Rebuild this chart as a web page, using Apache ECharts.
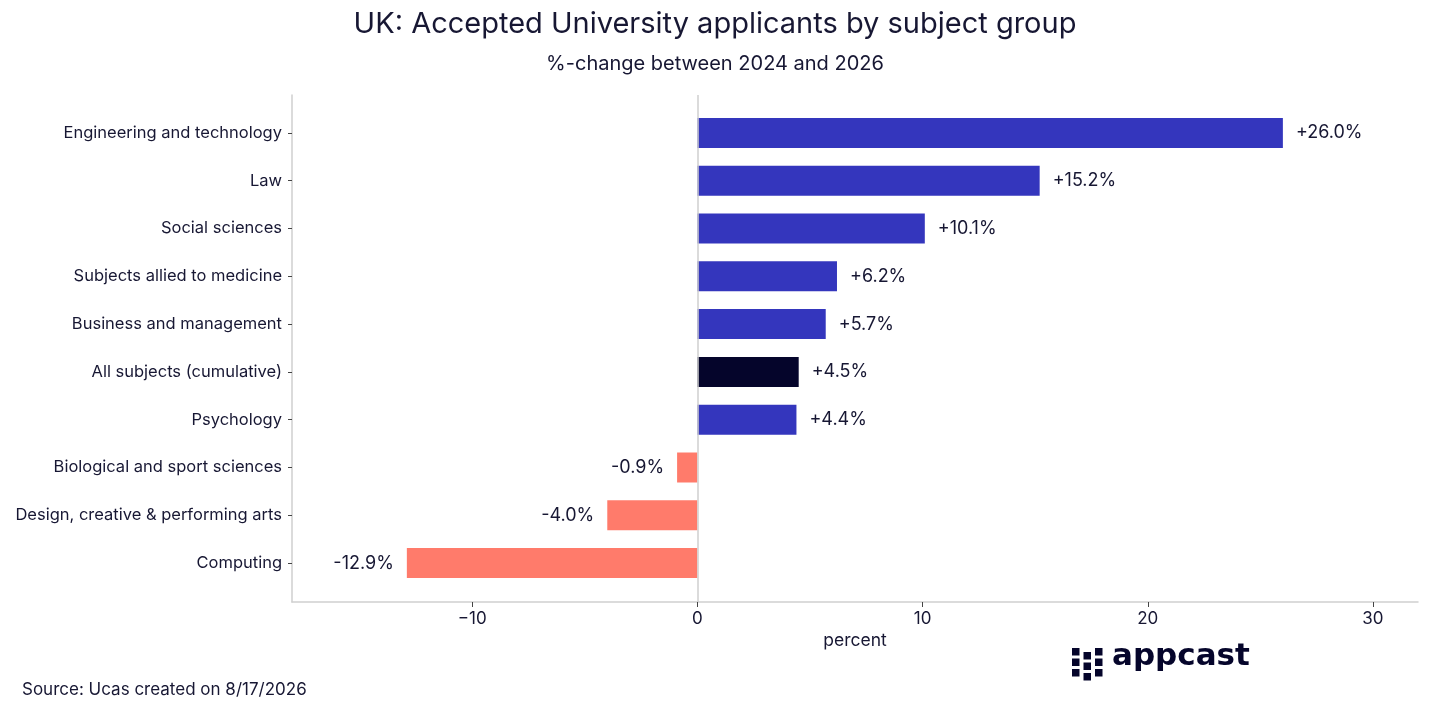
<!DOCTYPE html>
<html>
<head>
<meta charset="utf-8">
<script src="https://cdn.jsdelivr.net/npm/echarts@6/dist/echarts.min.js"></script>
<style>
html,body{margin:0;padding:0;background:#fff;}
#chart{width:1430px;height:716px;}
</style>
</head>
<body>
<div id="chart"></div>
<script>
const categories = [
  "Engineering and technology",
  "Law",
  "Social sciences",
  "Subjects allied to medicine",
  "Business and management",
  "All subjects (cumulative)",
  "Psychology",
  "Biological and sport sciences",
  "Design, creative & performing arts",
  "Computing"
];
const changeValues = [26.0, 15.2, 10.1, 6.2, 5.7, 4.5, 4.4, -0.9, -4.0, -12.9];
const xTickValues = [-10, 0, 10, 20, 30];
const totalCategory = "All subjects (cumulative)";

const FONT = "Inter, 'Noto Sans', sans-serif";
const TEXT = "#171733";
const BLUE = "#3436BD";
const DARK = "#05052B";
const SALMON = "#FF7B6B";

const barData = changeValues.map((v, i) => ({
  value: v,
  itemStyle: { color: categories[i] === totalCategory ? DARK : (v < 0 ? SALMON : BLUE) },
  label: { position: v < 0 ? 'left' : 'right' }
}));

const chart = echarts.init(document.getElementById('chart'), null, { renderer: 'canvas' });

const logoSquares = [];
[[0, 0], [0, 10.5], [0, 21], [11.5, 4], [11.5, 14.5], [11.5, 25], [23, 0], [23, 10.5], [23, 21]].forEach(p => {
  logoSquares.push({ type: 'rect', shape: { x: p[0], y: p[1], width: 7.5, height: 7.5 }, style: { fill: DARK } });
});

chart.setOption({
  backgroundColor: '#fff',
  animation: false,
  textStyle: { fontFamily: FONT },
  title: [
    { text: 'UK: Accepted University applicants by subject group', left: 'center', top: 5,
      textStyle: { fontSize: 29, fontWeight: 'normal', color: TEXT, fontFamily: FONT } },
    { text: '%-change between 2024 and 2026', left: 'center', top: 49,
      textStyle: { fontSize: 20, fontWeight: 'normal', color: TEXT, fontFamily: FONT } }
  ],
  grid: [
    { left: 292, right: 12, top: 109, height: 478 },
    { left: 292, right: 12, top: 95, bottom: 114 }
  ],
  xAxis: [
    { type: 'value', gridIndex: 0, min: -18, max: 32, show: false },
    { type: 'value', gridIndex: 1, min: -18, max: 32,
      name: 'percent', nameLocation: 'middle', nameGap: 30,
      nameTextStyle: { fontSize: 17.5, color: TEXT, fontFamily: FONT },
      axisLine: { show: true, onZero: false, lineStyle: { color: '#cfcfcf', width: 1.5 } },
      axisTick: { show: true, customValues: xTickValues, length: 5, lineStyle: { color: '#444' } },
      axisLabel: { customValues: xTickValues, margin: 8, fontSize: 17, color: TEXT, fontFamily: FONT,
        formatter: v => String(v).replace('-', '\u2212') },
      splitLine: { show: false } }
  ],
  yAxis: [
    { type: 'category', gridIndex: 0, data: categories, inverse: true,
      axisLine: { show: false, onZero: false },
      axisTick: { show: true, alignWithLabel: true, length: 4, lineStyle: { color: '#444' } },
      axisLabel: { fontSize: 16.5, color: TEXT, margin: 10, fontFamily: FONT } },
    { type: 'value', gridIndex: 1, min: 0, max: 1,
      axisLine: { show: true, onZero: false, lineStyle: { color: '#cfcfcf', width: 1.5 } },
      axisTick: { show: false }, axisLabel: { show: false }, splitLine: { show: false } }
  ],
  series: [
    { type: 'line', xAxisIndex: 1, yAxisIndex: 1, data: [], z: 1, silent: true,
      markLine: { symbol: 'none', silent: true, label: { show: false },
        lineStyle: { color: '#cfcfcf', type: 'solid', width: 1.5 },
        data: [{ xAxis: 0 }] } },
    { type: 'bar', xAxisIndex: 0, yAxisIndex: 0, data: barData, barWidth: 30, z: 3,
      label: { show: true, distance: 13, fontSize: 18, color: TEXT, fontFamily: FONT,
        formatter: p => (p.value > 0 ? '+' : '') + p.value.toFixed(1) + '%' } }
  ],
  graphic: [
    { type: 'text', left: 22, top: 681,
      style: { text: 'Source: Ucas created on 8/17/2026', fontSize: 17, fill: TEXT, fontFamily: FONT } },
    { type: 'group', left: 1072, top: 648, children: logoSquares },
    { type: 'text', left: 1112, top: 641,
      style: { text: 'appcast', fontSize: 31, fontWeight: 'bold', fill: DARK, fontFamily: "'DejaVu Sans', sans-serif" } }
  ]
});
</script>
</body>
</html>
